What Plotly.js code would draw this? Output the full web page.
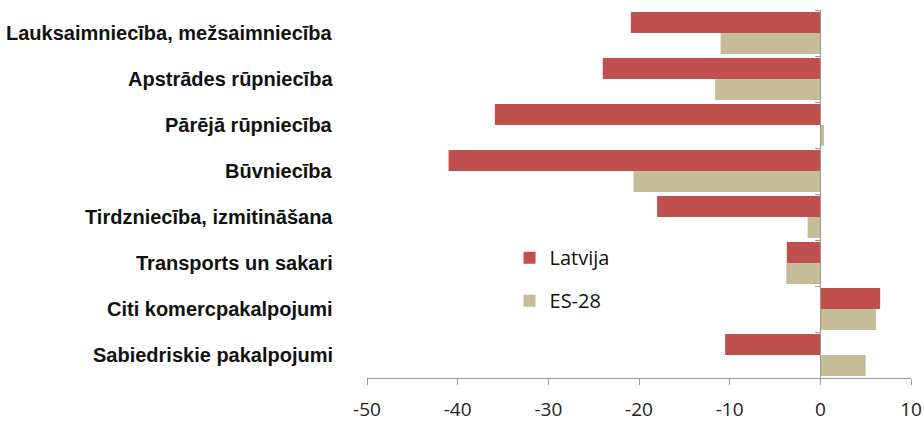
<!DOCTYPE html>
<html><head><meta charset="utf-8">
<script src="https://cdn.plot.ly/plotly-3.0.1.min.js"></script>
<style>html,body{margin:0;padding:0;background:#fff}#chart{width:924px;height:422px}</style>
</head><body><div id="chart"></div>
<script>
const categories = [
  "Lauksaimniecība, mežsaimniecība",
  "Apstrādes rūpniecība",
  "Pārējā rūpniecība",
  "Būvniecība",
  "Tirdzniecība, izmitināšana",
  "Transports un sakari",
  "Citi komercpakalpojumi",
  "Sabiedriskie pakalpojumi"
];
const latvija = [-20.9, -24.0, -35.9, -41.0, -18.0, -3.7, 6.6, -10.5];
const es28 = [-11.0, -11.6, 0.4, -20.6, -1.4, -3.75, 6.15, 5.0];
const seriesNames = ["Latvija", "ES-28"];
const xTicks = [-50, -40, -30, -20, -10, 0, 10];

const xMin = -50, xMax = 10;
const traces = [
  {type:'bar', orientation:'h', name:seriesNames[0], y:categories, x:latvija,
   marker:{color:'#C0504D'}, legendgroup:'a', hoverinfo:'x+y'},
  {type:'bar', orientation:'h', name:seriesNames[1], y:categories, x:es28,
   marker:{color:'#C4BD97'}, legendgroup:'b', hoverinfo:'x+y'}
];
const annotations = categories.map(c => ({
  xref:'paper', yref:'y', x:-0.058, y:c, xanchor:'right', yanchor:'middle',
  text:'<b>' + c + '</b>', showarrow:false,
  font:{family:'Liberation Sans Narrow, Liberation Sans, sans-serif', size:20, color:'#111'}
}));
const layout = {
  width:924, height:422,
  margin:{l:367, r:13, t:10, b:44},
  paper_bgcolor:'#fff', plot_bgcolor:'#fff',
  barmode:'group', bargap:0.09, bargroupgap:0,
  showlegend:true,
  legend:{x:0.262, y:0.38, xanchor:'left', yanchor:'top', bgcolor:'rgba(0,0,0,0)',
          font:{family:'Open Sans, sans-serif', size:20, color:'#111'},
          traceorder:'grouped', tracegroupgap:14, itemwidth:30},
  xaxis:{range:[xMin, xMax], tickvals:xTicks, ticktext:xTicks.map(String),
         showgrid:false, zeroline:false, showline:true, linecolor:'#999', linewidth:1,
         ticks:'outside', ticklen:6, tickcolor:'#999', ticklabelstandoff:8,
         tickfont:{family:'Open Sans, sans-serif', size:19, color:'#222'}},
  yaxis:{type:'category', autorange:'reversed', anchor:'free',
         position:(0 - xMin)/(xMax - xMin),
         showgrid:false, zeroline:false, showline:true, linecolor:'#999', linewidth:1,
         ticks:'outside', ticklen:5, tickcolor:'#999', tickson:'boundaries',
         showticklabels:false},
  annotations:annotations
};
Plotly.newPlot('chart', traces, layout, {staticPlot:true});
</script></body></html>
